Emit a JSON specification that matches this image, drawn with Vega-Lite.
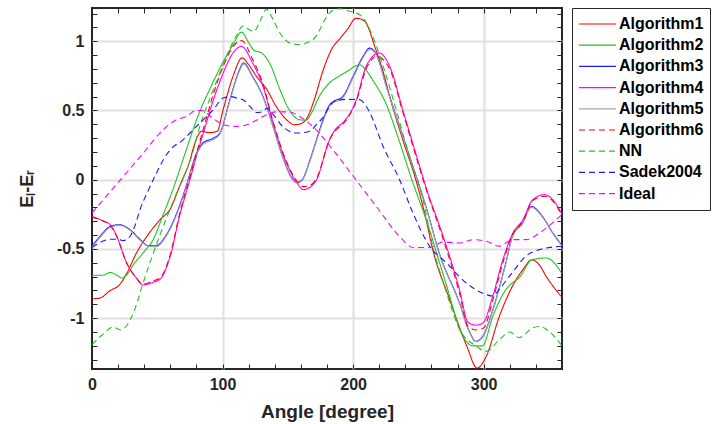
{
"$schema": "https://vega.github.io/schema/vega-lite/v6.json",
"width": 470,
"height": 361,
"autosize": "none",
"padding": {"left": 92, "top": 8, "right": 155, "bottom": 55},
"config": {
  "font": "Liberation Sans",
  "view": {"stroke": "#262626", "strokeWidth": 2},
  "axis": {"domain": false, "tickColor": "#262626", "tickWidth": 1, "tickSize": -5, "labelFont": "Liberation Sans", "labelFontWeight": "bold", "labelFontSize": 16, "labelColor": "#262626", "labelFlush": false, "titleFont": "Liberation Sans", "titleFontWeight": "bold", "titleColor": "#262626", "gridColor": "#e0e0e0", "gridWidth": 2},
  "legend": {"labelFont": "Liberation Sans", "labelFontWeight": "bold", "labelFontSize": 16, "labelColor": "#000000", "strokeColor": "#262626", "padding": 6, "symbolSize": 1369, "symbolStrokeWidth": 1.2, "rowPadding": 1.2, "clipHeight": 20, "labelOffset": 2, "offset": 9}
},
"data": {"values": [
{"s":"Algorithm1","a":0,"v":-0.86},{"s":"Algorithm1","a":6,"v":-0.855},{"s":"Algorithm1","a":14,"v":-0.8},{"s":"Algorithm1","a":21,"v":-0.76},{"s":"Algorithm1","a":27,"v":-0.67},{"s":"Algorithm1","a":34,"v":-0.53},{"s":"Algorithm1","a":42,"v":-0.41},{"s":"Algorithm1","a":52,"v":-0.29},{"s":"Algorithm1","a":60,"v":-0.21},{"s":"Algorithm1","a":67,"v":-0.05},{"s":"Algorithm1","a":75,"v":0.14},{"s":"Algorithm1","a":78,"v":0.24},{"s":"Algorithm1","a":84,"v":0.35},{"s":"Algorithm1","a":90,"v":0.34},{"s":"Algorithm1","a":96,"v":0.35},{"s":"Algorithm1","a":100,"v":0.49},{"s":"Algorithm1","a":108,"v":0.746},{"s":"Algorithm1","a":115,"v":0.88},{"s":"Algorithm1","a":120,"v":0.83},{"s":"Algorithm1","a":126,"v":0.746},{"s":"Algorithm1","a":134,"v":0.65},{"s":"Algorithm1","a":141,"v":0.53},{"s":"Algorithm1","a":149,"v":0.433},{"s":"Algorithm1","a":155,"v":0.397},{"s":"Algorithm1","a":160,"v":0.405},{"s":"Algorithm1","a":165,"v":0.45},{"s":"Algorithm1","a":170,"v":0.57},{"s":"Algorithm1","a":177,"v":0.79},{"s":"Algorithm1","a":184,"v":0.95},{"s":"Algorithm1","a":190,"v":1.02},{"s":"Algorithm1","a":196,"v":1.09},{"s":"Algorithm1","a":202,"v":1.165},{"s":"Algorithm1","a":206,"v":1.16},{"s":"Algorithm1","a":210,"v":1.13},{"s":"Algorithm1","a":217,"v":0.95},{"s":"Algorithm1","a":223,"v":0.78},{"s":"Algorithm1","a":228,"v":0.6},{"s":"Algorithm1","a":238,"v":0.29},{"s":"Algorithm1","a":248,"v":0.0},{"s":"Algorithm1","a":255,"v":-0.25},{"s":"Algorithm1","a":261,"v":-0.505},{"s":"Algorithm1","a":274,"v":-0.866},{"s":"Algorithm1","a":287,"v":-1.2},{"s":"Algorithm1","a":295,"v":-1.36},{"s":"Algorithm1","a":302,"v":-1.275},{"s":"Algorithm1","a":312,"v":-0.987},{"s":"Algorithm1","a":322,"v":-0.77},{"s":"Algorithm1","a":330,"v":-0.65},{"s":"Algorithm1","a":337,"v":-0.578},{"s":"Algorithm1","a":343,"v":-0.62},{"s":"Algorithm1","a":348,"v":-0.7},{"s":"Algorithm1","a":354,"v":-0.78},{"s":"Algorithm1","a":360,"v":-0.85},
{"s":"Algorithm2","a":0,"v":-0.69},{"s":"Algorithm2","a":8,"v":-0.69},{"s":"Algorithm2","a":14,"v":-0.67},{"s":"Algorithm2","a":19,"v":-0.69},{"s":"Algorithm2","a":23,"v":-0.71},{"s":"Algorithm2","a":28,"v":-0.67},{"s":"Algorithm2","a":32,"v":-0.61},{"s":"Algorithm2","a":39,"v":-0.53},{"s":"Algorithm2","a":47,"v":-0.43},{"s":"Algorithm2","a":54,"v":-0.265},{"s":"Algorithm2","a":62,"v":-0.07},{"s":"Algorithm2","a":72,"v":0.21},{"s":"Algorithm2","a":82,"v":0.48},{"s":"Algorithm2","a":90,"v":0.65},{"s":"Algorithm2","a":100,"v":0.843},{"s":"Algorithm2","a":108,"v":0.975},{"s":"Algorithm2","a":114.5,"v":1.066},{"s":"Algorithm2","a":120,"v":0.99},{"s":"Algorithm2","a":124,"v":0.935},{"s":"Algorithm2","a":130,"v":0.915},{"s":"Algorithm2","a":136,"v":0.843},{"s":"Algorithm2","a":144,"v":0.65},{"s":"Algorithm2","a":151,"v":0.505},{"s":"Algorithm2","a":159,"v":0.433},{"s":"Algorithm2","a":164,"v":0.43},{"s":"Algorithm2","a":168,"v":0.48},{"s":"Algorithm2","a":174,"v":0.6},{"s":"Algorithm2","a":182,"v":0.7},{"s":"Algorithm2","a":188,"v":0.74},{"s":"Algorithm2","a":195,"v":0.78},{"s":"Algorithm2","a":205,"v":0.83},{"s":"Algorithm2","a":210,"v":0.79},{"s":"Algorithm2","a":215,"v":0.72},{"s":"Algorithm2","a":225,"v":0.554},{"s":"Algorithm2","a":235,"v":0.29},{"s":"Algorithm2","a":245,"v":0.0},{"s":"Algorithm2","a":256,"v":-0.29},{"s":"Algorithm2","a":271,"v":-0.746},{"s":"Algorithm2","a":284,"v":-1.13},{"s":"Algorithm2","a":292,"v":-1.2},{"s":"Algorithm2","a":299,"v":-1.2},{"s":"Algorithm2","a":307,"v":-0.987},{"s":"Algorithm2","a":317,"v":-0.794},{"s":"Algorithm2","a":322,"v":-0.745},{"s":"Algorithm2","a":327,"v":-0.71},{"s":"Algorithm2","a":337,"v":-0.578},{"s":"Algorithm2","a":348,"v":-0.565},{"s":"Algorithm2","a":354,"v":-0.6},{"s":"Algorithm2","a":360,"v":-0.68},
{"s":"Algorithm3","a":0,"v":-0.48},{"s":"Algorithm3","a":6,"v":-0.41},{"s":"Algorithm3","a":14,"v":-0.337},{"s":"Algorithm3","a":21,"v":-0.325},{"s":"Algorithm3","a":29,"v":-0.36},{"s":"Algorithm3","a":37,"v":-0.433},{"s":"Algorithm3","a":43,"v":-0.477},{"s":"Algorithm3","a":49,"v":-0.477},{"s":"Algorithm3","a":57,"v":-0.397},{"s":"Algorithm3","a":65,"v":-0.24},{"s":"Algorithm3","a":72,"v":-0.05},{"s":"Algorithm3","a":80,"v":0.19},{"s":"Algorithm3","a":85,"v":0.265},{"s":"Algorithm3","a":93,"v":0.3},{"s":"Algorithm3","a":98,"v":0.337},{"s":"Algorithm3","a":105.6,"v":0.578},{"s":"Algorithm3","a":113,"v":0.794},{"s":"Algorithm3","a":116,"v":0.843},{"s":"Algorithm3","a":123,"v":0.746},{"s":"Algorithm3","a":131,"v":0.6},{"s":"Algorithm3","a":138.7,"v":0.385},{"s":"Algorithm3","a":146,"v":0.168},{"s":"Algorithm3","a":154,"v":0.0},{"s":"Algorithm3","a":157,"v":-0.02},{"s":"Algorithm3","a":161,"v":0.0},{"s":"Algorithm3","a":167,"v":0.144},{"s":"Algorithm3","a":172,"v":0.29},{"s":"Algorithm3","a":177,"v":0.433},{"s":"Algorithm3","a":182,"v":0.54},{"s":"Algorithm3","a":185,"v":0.565},{"s":"Algorithm3","a":192,"v":0.6},{"s":"Algorithm3","a":200,"v":0.746},{"s":"Algorithm3","a":207.6,"v":0.89},{"s":"Algorithm3","a":212.7,"v":0.95},{"s":"Algorithm3","a":218,"v":0.9},{"s":"Algorithm3","a":225.5,"v":0.674},{"s":"Algorithm3","a":235.6,"v":0.385},{"s":"Algorithm3","a":245.8,"v":0.096},{"s":"Algorithm3","a":256,"v":-0.2},{"s":"Algorithm3","a":266,"v":-0.53},{"s":"Algorithm3","a":281.5,"v":-0.89},{"s":"Algorithm3","a":289,"v":-1.095},{"s":"Algorithm3","a":294,"v":-1.167},{"s":"Algorithm3","a":299.4,"v":-1.13},{"s":"Algorithm3","a":307,"v":-0.94},{"s":"Algorithm3","a":317,"v":-0.6},{"s":"Algorithm3","a":322,"v":-0.41},{"s":"Algorithm3","a":330,"v":-0.31},{"s":"Algorithm3","a":336.4,"v":-0.193},{"s":"Algorithm3","a":345,"v":-0.265},{"s":"Algorithm3","a":353,"v":-0.385},{"s":"Algorithm3","a":360,"v":-0.475},
{"s":"Algorithm4","a":0,"v":-0.265},{"s":"Algorithm4","a":9,"v":-0.3},{"s":"Algorithm4","a":14,"v":-0.325},{"s":"Algorithm4","a":19,"v":-0.41},{"s":"Algorithm4","a":26.5,"v":-0.6},{"s":"Algorithm4","a":34,"v":-0.71},{"s":"Algorithm4","a":39,"v":-0.76},{"s":"Algorithm4","a":47,"v":-0.74},{"s":"Algorithm4","a":52,"v":-0.72},{"s":"Algorithm4","a":60,"v":-0.55},{"s":"Algorithm4","a":67,"v":-0.265},{"s":"Algorithm4","a":75,"v":0.0},{"s":"Algorithm4","a":80,"v":0.17},{"s":"Algorithm4","a":86,"v":0.36},{"s":"Algorithm4","a":93,"v":0.578},{"s":"Algorithm4","a":100.5,"v":0.77},{"s":"Algorithm4","a":108,"v":0.915},{"s":"Algorithm4","a":114.5,"v":0.963},{"s":"Algorithm4","a":123,"v":0.843},{"s":"Algorithm4","a":131,"v":0.674},{"s":"Algorithm4","a":138.7,"v":0.41},{"s":"Algorithm4","a":149,"v":0.12},{"s":"Algorithm4","a":157,"v":-0.024},{"s":"Algorithm4","a":162,"v":-0.072},{"s":"Algorithm4","a":166,"v":-0.06},{"s":"Algorithm4","a":172,"v":0.0},{"s":"Algorithm4","a":182,"v":0.29},{"s":"Algorithm4","a":187,"v":0.37},{"s":"Algorithm4","a":192,"v":0.41},{"s":"Algorithm4","a":202.5,"v":0.578},{"s":"Algorithm4","a":210,"v":0.82},{"s":"Algorithm4","a":220,"v":0.915},{"s":"Algorithm4","a":228,"v":0.82},{"s":"Algorithm4","a":238,"v":0.505},{"s":"Algorithm4","a":251,"v":0.096},{"s":"Algorithm4","a":256,"v":-0.06},{"s":"Algorithm4","a":269,"v":-0.41},{"s":"Algorithm4","a":281.5,"v":-0.794},{"s":"Algorithm4","a":288,"v":-1.03},{"s":"Algorithm4","a":294,"v":-1.05},{"s":"Algorithm4","a":299.4,"v":-1.035},{"s":"Algorithm4","a":307,"v":-0.84},{"s":"Algorithm4","a":314.7,"v":-0.578},{"s":"Algorithm4","a":322.4,"v":-0.385},{"s":"Algorithm4","a":330,"v":-0.29},{"s":"Algorithm4","a":337.6,"v":-0.144},{"s":"Algorithm4","a":346.6,"v":-0.108},{"s":"Algorithm4","a":353,"v":-0.144},{"s":"Algorithm4","a":360,"v":-0.25},
{"s":"Algorithm5","a":0,"v":-0.49},{"s":"Algorithm5","a":6,"v":-0.42},{"s":"Algorithm5","a":14,"v":-0.345},{"s":"Algorithm5","a":21,"v":-0.33},{"s":"Algorithm5","a":29,"v":-0.365},{"s":"Algorithm5","a":37,"v":-0.44},{"s":"Algorithm5","a":43,"v":-0.48},{"s":"Algorithm5","a":49,"v":-0.485},{"s":"Algorithm5","a":57,"v":-0.405},{"s":"Algorithm5","a":65,"v":-0.25},{"s":"Algorithm5","a":72,"v":-0.06},{"s":"Algorithm5","a":80,"v":0.18},{"s":"Algorithm5","a":85,"v":0.255},{"s":"Algorithm5","a":93,"v":0.29},{"s":"Algorithm5","a":98,"v":0.33},{"s":"Algorithm5","a":105.6,"v":0.57},{"s":"Algorithm5","a":113,"v":0.785},{"s":"Algorithm5","a":116,"v":0.835},{"s":"Algorithm5","a":123,"v":0.74},{"s":"Algorithm5","a":131,"v":0.595},{"s":"Algorithm5","a":138.7,"v":0.38},{"s":"Algorithm5","a":146,"v":0.16},{"s":"Algorithm5","a":154,"v":-0.005},{"s":"Algorithm5","a":157,"v":-0.025},{"s":"Algorithm5","a":161,"v":-0.005},{"s":"Algorithm5","a":167,"v":0.135},{"s":"Algorithm5","a":172,"v":0.28},{"s":"Algorithm5","a":177,"v":0.42},{"s":"Algorithm5","a":182,"v":0.53},{"s":"Algorithm5","a":185,"v":0.555},{"s":"Algorithm5","a":192,"v":0.59},{"s":"Algorithm5","a":200,"v":0.735},{"s":"Algorithm5","a":207.6,"v":0.88},{"s":"Algorithm5","a":212.7,"v":0.94},{"s":"Algorithm5","a":218,"v":0.895},{"s":"Algorithm5","a":225.5,"v":0.67},{"s":"Algorithm5","a":235.6,"v":0.38},{"s":"Algorithm5","a":245.8,"v":0.09},{"s":"Algorithm5","a":256,"v":-0.205},{"s":"Algorithm5","a":266,"v":-0.535},{"s":"Algorithm5","a":281.5,"v":-0.895},{"s":"Algorithm5","a":289,"v":-1.1},{"s":"Algorithm5","a":294,"v":-1.17},{"s":"Algorithm5","a":299.4,"v":-1.135},{"s":"Algorithm5","a":307,"v":-0.945},{"s":"Algorithm5","a":317,"v":-0.605},{"s":"Algorithm5","a":322,"v":-0.415},{"s":"Algorithm5","a":330,"v":-0.315},{"s":"Algorithm5","a":336.4,"v":-0.2},{"s":"Algorithm5","a":345,"v":-0.27},{"s":"Algorithm5","a":353,"v":-0.39},{"s":"Algorithm5","a":360,"v":-0.48},
{"s":"Algorithm6","a":0,"v":-0.27},{"s":"Algorithm6","a":9,"v":-0.3},{"s":"Algorithm6","a":14,"v":-0.33},{"s":"Algorithm6","a":19,"v":-0.41},{"s":"Algorithm6","a":26.5,"v":-0.6},{"s":"Algorithm6","a":34,"v":-0.71},{"s":"Algorithm6","a":39,"v":-0.755},{"s":"Algorithm6","a":47,"v":-0.73},{"s":"Algorithm6","a":52,"v":-0.71},{"s":"Algorithm6","a":60,"v":-0.54},{"s":"Algorithm6","a":67,"v":-0.25},{"s":"Algorithm6","a":75,"v":0.02},{"s":"Algorithm6","a":80,"v":0.19},{"s":"Algorithm6","a":86,"v":0.39},{"s":"Algorithm6","a":93,"v":0.62},{"s":"Algorithm6","a":100.5,"v":0.82},{"s":"Algorithm6","a":108,"v":0.96},{"s":"Algorithm6","a":114.5,"v":1.005},{"s":"Algorithm6","a":123,"v":0.87},{"s":"Algorithm6","a":131,"v":0.69},{"s":"Algorithm6","a":138.7,"v":0.42},{"s":"Algorithm6","a":149,"v":0.13},{"s":"Algorithm6","a":157,"v":-0.01},{"s":"Algorithm6","a":162,"v":-0.05},{"s":"Algorithm6","a":166,"v":-0.045},{"s":"Algorithm6","a":172,"v":0.01},{"s":"Algorithm6","a":182,"v":0.29},{"s":"Algorithm6","a":187,"v":0.36},{"s":"Algorithm6","a":192,"v":0.4},{"s":"Algorithm6","a":202.5,"v":0.57},{"s":"Algorithm6","a":210,"v":0.8},{"s":"Algorithm6","a":218,"v":0.89},{"s":"Algorithm6","a":228,"v":0.8},{"s":"Algorithm6","a":238,"v":0.49},{"s":"Algorithm6","a":251,"v":0.08},{"s":"Algorithm6","a":256,"v":-0.07},{"s":"Algorithm6","a":269,"v":-0.43},{"s":"Algorithm6","a":281.5,"v":-0.82},{"s":"Algorithm6","a":288,"v":-1.06},{"s":"Algorithm6","a":295,"v":-1.085},{"s":"Algorithm6","a":300,"v":-1.07},{"s":"Algorithm6","a":307,"v":-0.87},{"s":"Algorithm6","a":314.7,"v":-0.6},{"s":"Algorithm6","a":322.4,"v":-0.39},{"s":"Algorithm6","a":330,"v":-0.3},{"s":"Algorithm6","a":337.6,"v":-0.15},{"s":"Algorithm6","a":346.6,"v":-0.12},{"s":"Algorithm6","a":353,"v":-0.155},{"s":"Algorithm6","a":360,"v":-0.26},
{"s":"NN","a":0,"v":-1.19},{"s":"NN","a":8,"v":-1.12},{"s":"NN","a":16,"v":-1.065},{"s":"NN","a":22,"v":-1.085},{"s":"NN","a":26,"v":-1.06},{"s":"NN","a":33,"v":-0.93},{"s":"NN","a":39,"v":-0.75},{"s":"NN","a":47,"v":-0.53},{"s":"NN","a":52,"v":-0.4},{"s":"NN","a":60,"v":-0.21},{"s":"NN","a":70,"v":0.02},{"s":"NN","a":75,"v":0.13},{"s":"NN","a":82.6,"v":0.385},{"s":"NN","a":90,"v":0.58},{"s":"NN","a":95,"v":0.7},{"s":"NN","a":103,"v":0.89},{"s":"NN","a":110,"v":1.03},{"s":"NN","a":115.8,"v":1.11},{"s":"NN","a":121,"v":1.08},{"s":"NN","a":124,"v":1.07},{"s":"NN","a":128,"v":1.13},{"s":"NN","a":133.7,"v":1.23},{"s":"NN","a":139,"v":1.15},{"s":"NN","a":144,"v":1.06},{"s":"NN","a":151,"v":0.99},{"s":"NN","a":159,"v":0.975},{"s":"NN","a":165,"v":0.99},{"s":"NN","a":172,"v":1.04},{"s":"NN","a":178,"v":1.15},{"s":"NN","a":184,"v":1.22},{"s":"NN","a":190,"v":1.235},{"s":"NN","a":198,"v":1.215},{"s":"NN","a":206,"v":1.185},{"s":"NN","a":215,"v":1.035},{"s":"NN","a":223,"v":0.82},{"s":"NN","a":233,"v":0.505},{"s":"NN","a":243,"v":0.17},{"s":"NN","a":253.5,"v":-0.144},{"s":"NN","a":261,"v":-0.48},{"s":"NN","a":271,"v":-0.8},{"s":"NN","a":281.5,"v":-1.08},{"s":"NN","a":294,"v":-1.2},{"s":"NN","a":302,"v":-1.24},{"s":"NN","a":312,"v":-1.155},{"s":"NN","a":320,"v":-1.1},{"s":"NN","a":327,"v":-1.14},{"s":"NN","a":337.6,"v":-1.07},{"s":"NN","a":343,"v":-1.06},{"s":"NN","a":350,"v":-1.095},{"s":"NN","a":360,"v":-1.2},
{"s":"Sadek2004","a":0,"v":-0.49},{"s":"Sadek2004","a":8,"v":-0.445},{"s":"Sadek2004","a":14,"v":-0.43},{"s":"Sadek2004","a":20,"v":-0.43},{"s":"Sadek2004","a":24,"v":-0.44},{"s":"Sadek2004","a":29,"v":-0.41},{"s":"Sadek2004","a":33,"v":-0.33},{"s":"Sadek2004","a":37,"v":-0.21},{"s":"Sadek2004","a":42,"v":-0.1},{"s":"Sadek2004","a":49.5,"v":0.05},{"s":"Sadek2004","a":55,"v":0.15},{"s":"Sadek2004","a":60,"v":0.217},{"s":"Sadek2004","a":70,"v":0.29},{"s":"Sadek2004","a":80,"v":0.385},{"s":"Sadek2004","a":92.8,"v":0.505},{"s":"Sadek2004","a":100.5,"v":0.59},{"s":"Sadek2004","a":106,"v":0.6},{"s":"Sadek2004","a":111,"v":0.59},{"s":"Sadek2004","a":116,"v":0.575},{"s":"Sadek2004","a":121,"v":0.53},{"s":"Sadek2004","a":126,"v":0.485},{"s":"Sadek2004","a":130,"v":0.49},{"s":"Sadek2004","a":134,"v":0.515},{"s":"Sadek2004","a":138,"v":0.48},{"s":"Sadek2004","a":146,"v":0.385},{"s":"Sadek2004","a":156.6,"v":0.337},{"s":"Sadek2004","a":162,"v":0.34},{"s":"Sadek2004","a":167,"v":0.35},{"s":"Sadek2004","a":172,"v":0.4},{"s":"Sadek2004","a":177,"v":0.45},{"s":"Sadek2004","a":182,"v":0.53},{"s":"Sadek2004","a":185,"v":0.565},{"s":"Sadek2004","a":195,"v":0.58},{"s":"Sadek2004","a":205,"v":0.578},{"s":"Sadek2004","a":210,"v":0.53},{"s":"Sadek2004","a":213,"v":0.48},{"s":"Sadek2004","a":223,"v":0.24},{"s":"Sadek2004","a":235.6,"v":0.0},{"s":"Sadek2004","a":245.8,"v":-0.24},{"s":"Sadek2004","a":258.6,"v":-0.48},{"s":"Sadek2004","a":271.4,"v":-0.6},{"s":"Sadek2004","a":286.7,"v":-0.746},{"s":"Sadek2004","a":299.4,"v":-0.82},{"s":"Sadek2004","a":307,"v":-0.84},{"s":"Sadek2004","a":312,"v":-0.79},{"s":"Sadek2004","a":322,"v":-0.67},{"s":"Sadek2004","a":332.6,"v":-0.55},{"s":"Sadek2004","a":342.8,"v":-0.505},{"s":"Sadek2004","a":350,"v":-0.49},{"s":"Sadek2004","a":360,"v":-0.48},
{"s":"Ideal","a":0,"v":-0.24},{"s":"Ideal","a":20,"v":-0.02},{"s":"Ideal","a":40,"v":0.2},{"s":"Ideal","a":52,"v":0.337},{"s":"Ideal","a":64,"v":0.43},{"s":"Ideal","a":72,"v":0.455},{"s":"Ideal","a":80,"v":0.5},{"s":"Ideal","a":85,"v":0.5},{"s":"Ideal","a":91,"v":0.455},{"s":"Ideal","a":98,"v":0.41},{"s":"Ideal","a":104,"v":0.39},{"s":"Ideal","a":111,"v":0.385},{"s":"Ideal","a":118,"v":0.395},{"s":"Ideal","a":126,"v":0.43},{"s":"Ideal","a":134,"v":0.47},{"s":"Ideal","a":141,"v":0.49},{"s":"Ideal","a":151,"v":0.49},{"s":"Ideal","a":159,"v":0.457},{"s":"Ideal","a":169,"v":0.385},{"s":"Ideal","a":184.5,"v":0.217},{"s":"Ideal","a":200,"v":0.027},{"s":"Ideal","a":210,"v":-0.097},{"s":"Ideal","a":218,"v":-0.196},{"s":"Ideal","a":235.6,"v":-0.41},{"s":"Ideal","a":246,"v":-0.49},{"s":"Ideal","a":258.6,"v":-0.49},{"s":"Ideal","a":268.8,"v":-0.45},{"s":"Ideal","a":281.6,"v":-0.457},{"s":"Ideal","a":291.7,"v":-0.433},{"s":"Ideal","a":302,"v":-0.445},{"s":"Ideal","a":312,"v":-0.48},{"s":"Ideal","a":322,"v":-0.433},{"s":"Ideal","a":332.6,"v":-0.433},{"s":"Ideal","a":342.8,"v":-0.385},{"s":"Ideal","a":353,"v":-0.31},{"s":"Ideal","a":360,"v":-0.25}
]},
"layer": [
  {
    "mark": {"type": "line", "interpolate": "monotone", "strokeWidth": 1.1, "clip": true},
    "encoding": {
      "x": {"field": "a", "type": "quantitative", "scale": {"domain": [0, 360], "nice": false, "zero": false},
        "axis": {"orient": "bottom", "title": "Angle [degree]", "titleFontSize": 19, "titlePadding": 10,
          "values": [0,20,40,60,80,100,120,140,160,180,200,220,240,260,280,300,320,340,360],
          "labelExpr": "datum.value % 100 === 0 ? datum.label : ''", "labelPadding": 12,
          "grid": true, "gridOpacity": {"condition": {"test": "datum.value % 100 === 0 && datum.value > 0", "value": 1}, "value": 0}}},
      "y": {"field": "v", "type": "quantitative", "scale": {"domain": [-1.367, 1.24], "nice": false, "zero": false},
        "axis": {"orient": "left", "title": "Eₗ-Eᵣ", "titleFontSize": 18, "titlePadding": 20,
          "values": [-1.3,-1.2,-1.1,-1,-0.9,-0.8,-0.7,-0.6,-0.5,-0.4,-0.3,-0.2,-0.1,0,0.1,0.2,0.3,0.4,0.5,0.6,0.7,0.8,0.9,1,1.1,1.2],
          "labelExpr": "abs(round(datum.value*10)) % 5 === 0 ? '' + round(datum.value*10)/10 : ''", "labelPadding": 13,
          "grid": true, "gridOpacity": {"condition": {"test": "abs(round(datum.value*10)) % 5 === 0", "value": 1}, "value": 0}}},
      "color": {"field": "s", "type": "nominal", "title": null,
        "scale": {"domain": ["Algorithm1","Algorithm2","Algorithm3","Algorithm4","Algorithm5","Algorithm6","NN","Sadek2004","Ideal"],
          "range": ["#ff0000","#22c422","#1a1aff","#ff00ff","#a8a8a8","#fe0101","#21c321","#1919fe","#fe01fe"]},
        "legend": {"orient": "right", "symbolType": "stroke"}},
      "strokeDash": {"field": "s", "type": "nominal", "title": null,
        "scale": {"domain": ["Algorithm1","Algorithm2","Algorithm3","Algorithm4","Algorithm5","Algorithm6","NN","Sadek2004","Ideal"],
          "range": [[1,0],[1,0],[1,0],[1,0],[1,0],[6,4],[6,4],[6,4],[6,4]]},
        "legend": {"orient": "right", "symbolType": "stroke"}}
    }
  },
  {
    "mark": {"type": "line", "opacity": 0},
    "encoding": {
      "x": {"field": "a", "type": "quantitative",
        "axis": {"orient": "top", "title": null, "labels": false, "grid": false,
          "values": [0,20,40,60,80,100,120,140,160,180,200,220,240,260,280,300,320,340,360]}},
      "y": {"field": "v", "type": "quantitative",
        "axis": {"orient": "right", "title": null, "labels": false, "grid": false,
          "values": [-1.3,-1.2,-1.1,-1,-0.9,-0.8,-0.7,-0.6,-0.5,-0.4,-0.3,-0.2,-0.1,0,0.1,0.2,0.3,0.4,0.5,0.6,0.7,0.8,0.9,1,1.1,1.2]}},
      "detail": {"field": "s"}
    }
  }
],
"resolve": {"axis": {"x": "independent", "y": "independent"}}
}
